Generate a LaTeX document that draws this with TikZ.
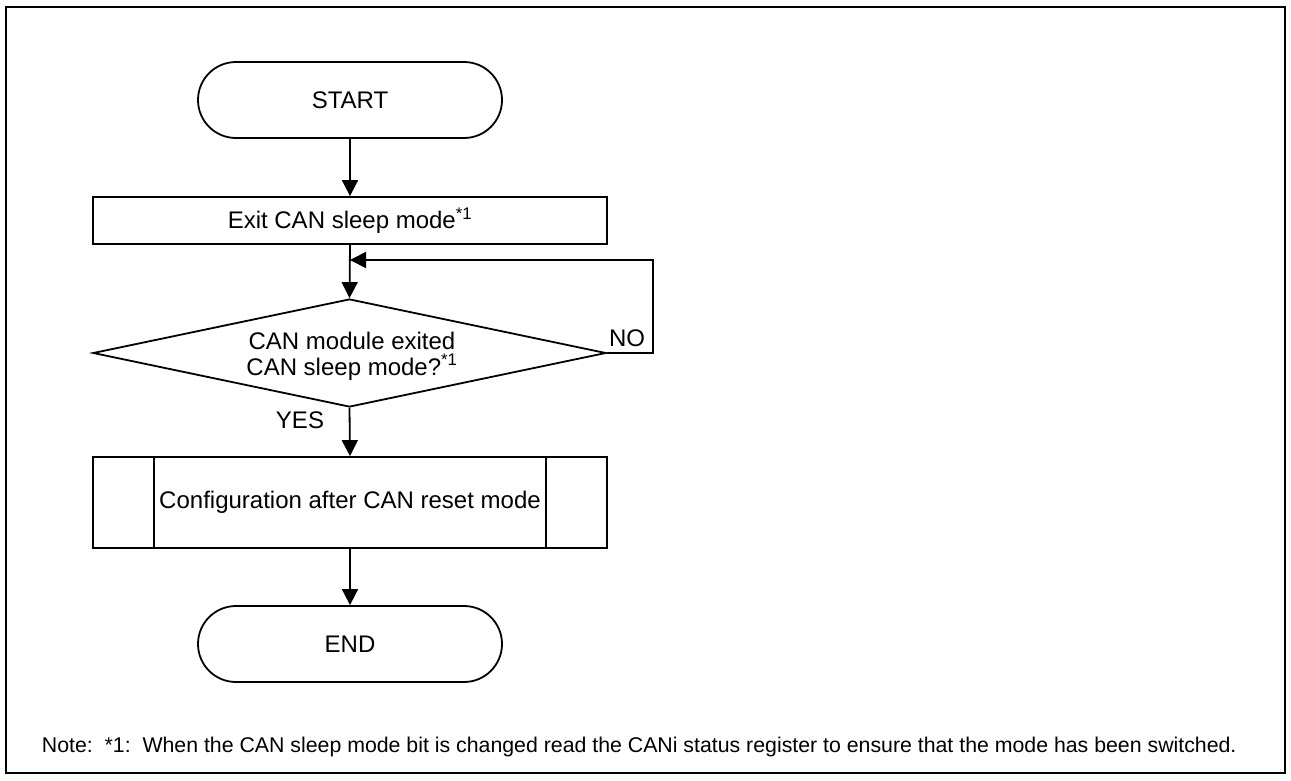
\documentclass[tikz,border=0pt]{standalone}
\usepackage{fontspec}
\setmainfont{Liberation Sans}
\usetikzlibrary{arrows.meta,shapes.geometric}
\begin{document}
\begin{tikzpicture}[x=1pt,y=-1pt,
  line width=1.8pt,
  every node/.style={font=\fontsize{24}{26}\selectfont},
  term/.style={draw, rounded corners=38pt, minimum width=304pt, minimum height=76pt, inner sep=0pt},
  procbox/.style={draw, minimum width=514pt, minimum height=47pt, inner sep=0pt},
  subproc/.style={draw, minimum width=514pt, minimum height=91pt, inner sep=0pt},
  decision/.style={draw, diamond, aspect=4.8, minimum width=513pt, minimum height=108pt, inner sep=0pt},
  lbl/.style={inner sep=0pt},
  arr/.style={-{Triangle[length=16pt,width=16pt]}}
]
\useasboundingbox (0,0) rectangle (1291,780);
\draw[line width=1.2pt] (6,7) rectangle (1285,773);

\node[term] (start) at (350,100) {START};
\node[procbox] (exit) at (350,220.5) {Exit CAN sleep mode\textsuperscript{*1}};
\node[decision] (dec) at (349.5,353) {};
\node[lbl, align=center, anchor=base] (dectext) at (352,375) {CAN module exited\\CAN sleep mode?\textsuperscript{*1}};
\node[subproc] (conf) at (350,502.5) {Configuration after CAN reset mode};
\draw (conf.north west) ++(62,0) coordinate (cl1) -- (cl1 |- conf.south);
\draw (conf.north east) ++(-62,0) coordinate (cr1) -- (cr1 |- conf.south);
\node[term] (end) at (350,644) {END};

\coordinate (j) at (350,260);
\coordinate (nr) at (653,353);
\coordinate (nt) at (653,260);

\draw[arr] (start.south) -- (exit.north);
\draw[arr] (exit.south) -- (dec.north);
\draw[arr] (dec.east) -- (nr) -- (nt) -- (j);
\draw[arr] (dec.south) -- (conf.north);
\draw[arr] (conf.south) -- (end.north);

\node[lbl] (no) at (627,338) {NO};
\node[lbl] (yes) at (300,420) {YES};

\node[lbl, anchor=base west, font=\fontsize{21.3}{24}\selectfont] (note) at (41,752)
  {Note:\ \ *1:\ \ When the CAN sleep mode bit is changed read the CANi status register to ensure that the mode has been switched.};
\end{tikzpicture}
\end{document}
